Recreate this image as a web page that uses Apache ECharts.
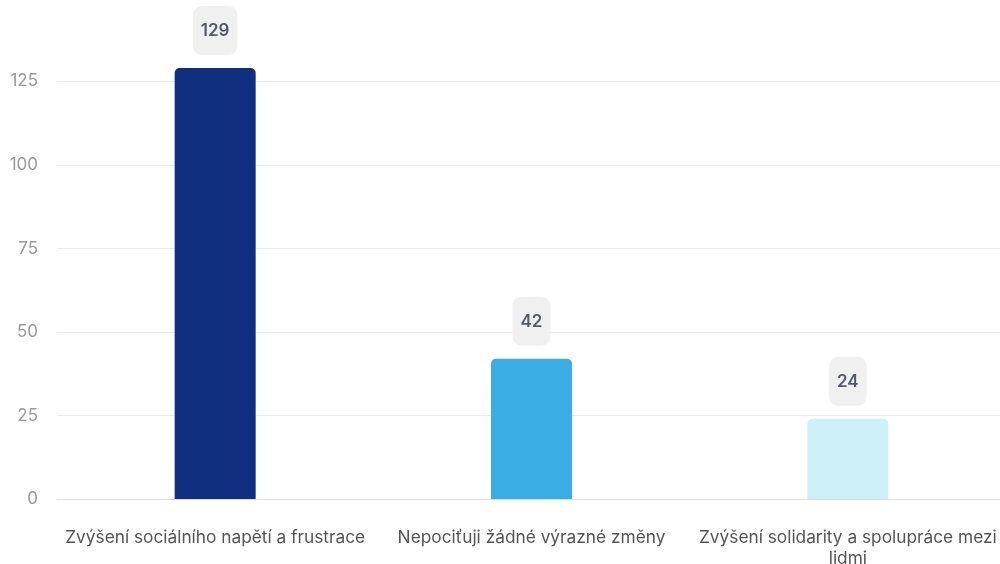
<!DOCTYPE html>
<html>
<head>
<meta charset="utf-8">
<script src="https://cdn.jsdelivr.net/npm/echarts@6/dist/echarts.min.js"></script>
<style>
html,body{margin:0;padding:0;background:#fff;}
#chart{width:1000px;height:564px;}
</style>
</head>
<body>
<div id="chart"></div>
<script>
const categories = ["Zvýšení sociálního napětí a frustrace", "Nepociťuji žádné výrazné změny", "Zvýšení solidarity a spolupráce mezi lidmi"];
const values = [129, 42, 24];
const barColors = ["#102f7e", "#3aade5", "#cdf0f9"];
const yTicks = [0, 25, 50, 75, 100, 125];

function wrapWords(text, maxChars) {
  const words = text.split(' ');
  const lines = [];
  let cur = '';
  words.forEach(w => {
    const next = cur ? cur + ' ' + w : w;
    if (next.length > maxChars && cur) { lines.push(cur); cur = w; }
    else cur = next;
  });
  if (cur) lines.push(cur);
  return lines.join('\n');
}

const chart = echarts.init(document.getElementById('chart'));
chart.setOption({
  animation: false,
  grid: { left: 57, right: -6, top: 68, bottom: 65, containLabel: false, outerBoundsMode: 'none' },
  xAxis: {
    type: 'category',
    data: categories,
    axisLine: { show: true, lineStyle: { color: '#dcdcdc', width: 1 } },
    axisTick: { show: false },
    axisLabel: {
      color: '#555555', fontSize: 17.3, fontFamily: 'Inter', margin: 28,
      lineHeight: 21, interval: 0, hideOverlap: false,
      formatter: v => wrapWords(v, 37)
    }
  },
  yAxis: {
    type: 'value',
    min: 0, max: 129,
    axisLine: { show: false },
    axisTick: { show: false, customValues: yTicks },
    axisLabel: { color: '#9a9a9a', fontSize: 17, fontFamily: 'Inter', margin: 19, customValues: yTicks },
    splitLine: { show: true, lineStyle: { color: '#ececec', width: 1 } }
  },
  series: [{
    type: 'bar',
    data: values.map((v, i) => ({ value: v, itemStyle: { color: barColors[i] } })),
    barWidth: 81,
    itemStyle: { borderRadius: [5, 5, 0, 0] },
    label: {
      show: true, position: 'top', distance: 13,
      color: '#555a6b', fontSize: 17, fontWeight: 600, fontFamily: 'Inter',
      backgroundColor: '#f0f0f0', borderRadius: 9, padding: [15, 8, 14, 8], lineHeight: 20
    }
  }]
});
</script>
</body>
</html>
